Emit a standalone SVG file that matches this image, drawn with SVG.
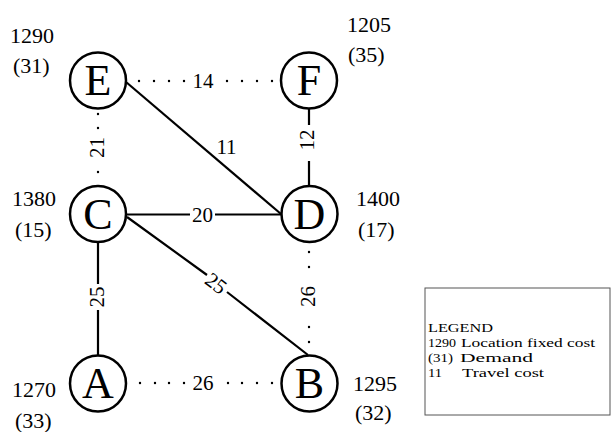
<svg xmlns="http://www.w3.org/2000/svg" width="612" height="432" viewBox="0 0 612 432" font-family="Liberation Serif, Times New Roman, serif">
<style>
.node circle{fill:#fff;stroke:#000;stroke-width:2.5}
.node .lt{font-size:44px;text-anchor:middle}
.info{font-size:22px}
.solid{stroke:#000;stroke-width:2.2;fill:none}
.dot{stroke:#000;stroke-width:2.4;fill:none;stroke-linecap:round}
.el{font-size:21px;text-anchor:middle}
.lg{font-size:13.5px}
</style>
<rect width="612" height="432" fill="#fff"/>
<g id="connectors">
  <path class="dot" d="M139 81h.01M154 81h.01M169 81h.01M184 81h.01M227 81h.01M242 81h.01M257 81h.01M272 81h.01"/>
  <text class="el" x="203" y="87.5">14</text>
  <path class="dot" d="M140 383h.01M155 383h.01M169 383h.01M184 383h.01M228 383h.01M242 383h.01M257 383h.01M272 383h.01"/>
  <text class="el" x="203" y="390">26</text>
  <path class="dot" d="M98 114v.01M98 128v.01M98 172v.01"/>
  <text class="el" transform="translate(98,147.5) rotate(-90)" y="6">21</text>
  <path class="dot" d="M309 252v.01M309 267v.01M309 327v.01M309 342v.01"/>
  <text class="el" transform="translate(309,296.5) rotate(-90)" y="6">26</text>
  <path class="solid" d="M309 108 L309 125 M309 161 L309 186"/>
  <text class="el" transform="translate(309,140) rotate(-90)" y="5">12</text>
  <path class="solid" d="M98 242 L98 284 M98 310 L98 355"/>
  <text class="el" transform="translate(98,297) rotate(-90)" y="6">25</text>
  <path class="solid" d="M126 214.5 L190 214.5 M215 214.5 L282 214.5"/>
  <text class="el" x="202.5" y="221.5">20</text>
  <path class="solid" d="M126 82 L281 214"/>
  <text class="el" x="226.5" y="154">11</text>
  <path class="solid" d="M127 217 L207 275 M227 292 L308 355"/>
  <text class="el" transform="translate(216,283.5) rotate(37)" y="7">25</text>
</g>
<g id="node-E" class="node">
  <circle cx="98" cy="80.5" r="28"/>
  <text class="lt" x="98" y="95">E</text>
  <text class="info" x="10" y="43">1290</text>
  <text class="info" x="13" y="73">(31)</text>
</g>
<g id="node-F" class="node">
  <circle cx="309" cy="80.5" r="28"/>
  <text class="lt" x="309" y="95">F</text>
  <text class="info" x="347" y="32">1205</text>
  <text class="info" x="348" y="62">(35)</text>
</g>
<g id="node-C" class="node">
  <circle cx="98" cy="214" r="28"/>
  <text class="lt" x="98" y="229">C</text>
  <text class="info" x="12" y="206">1380</text>
  <text class="info" x="15" y="237">(15)</text>
</g>
<g id="node-D" class="node">
  <circle cx="309.5" cy="214" r="28"/>
  <text class="lt" x="309.5" y="229">D</text>
  <text class="info" x="356" y="206">1400</text>
  <text class="info" x="358" y="237">(17)</text>
</g>
<g id="node-A" class="node">
  <circle cx="98" cy="383.5" r="28"/>
  <text class="lt" x="98" y="398">A</text>
  <text class="info" x="12" y="397">1270</text>
  <text class="info" x="15" y="428">(33)</text>
</g>
<g id="node-B" class="node">
  <circle cx="309.5" cy="383.5" r="28"/>
  <text class="lt" x="309.5" y="398">B</text>
  <text class="info" x="353" y="391">1295</text>
  <text class="info" x="355" y="420">(32)</text>
</g>
<g id="legend">
  <rect x="425" y="288" width="185" height="127" fill="#fff" stroke="#555" stroke-width="1"/>
  <text class="lg" x="428" y="332" textLength="65" lengthAdjust="spacingAndGlyphs">LEGEND</text>
  <text class="lg" x="428" y="347" textLength="28" lengthAdjust="spacingAndGlyphs">1290</text>
  <text class="lg" x="461" y="347" textLength="134" lengthAdjust="spacingAndGlyphs">Location fixed cost</text>
  <text class="lg" x="428" y="362" textLength="25" lengthAdjust="spacingAndGlyphs">(31)</text>
  <text class="lg" x="460" y="362" textLength="73" lengthAdjust="spacingAndGlyphs">Demand</text>
  <text class="lg" x="428" y="377" textLength="14" lengthAdjust="spacingAndGlyphs">11</text>
  <text class="lg" x="462" y="377" textLength="82" lengthAdjust="spacingAndGlyphs">Travel cost</text>
</g>
</svg>
